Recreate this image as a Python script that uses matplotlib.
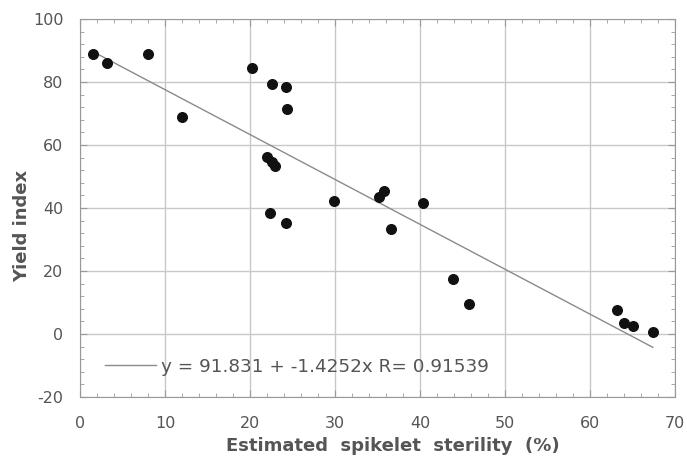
import matplotlib
matplotlib.use("Agg")
import matplotlib.pyplot as plt
import numpy as np
from matplotlib.ticker import MultipleLocator

# data
sterility = [1.5, 3.2, 8.0, 12.0, 20.2, 22.6, 24.2, 24.4,
             22.0, 22.6, 22.9, 22.4, 24.2, 29.9, 35.2, 35.8,
             36.6, 40.4, 43.9, 45.8, 63.2, 64.0, 65.1, 67.4]
yield_index = [89.0, 86.0, 89.0, 69.0, 84.4, 79.4, 78.4, 71.4,
               56.2, 54.6, 53.3, 38.4, 35.3, 42.3, 43.5, 45.4,
               33.3, 41.6, 17.5, 9.5, 7.6, 3.5, 2.5, 0.6]

intercept = 91.831
slope = -1.4252
fit_label = "y = 91.831 + -1.4252x R= 0.91539"

TXT = "#555555"
GRID = "#c8c8c8"

plt.rcParams["font.family"] = ["DejaVu Sans"]
plt.rcParams["axes.unicode_minus"] = False

fig = plt.figure(figsize=(6.87, 4.58), dpi=100)
ax = fig.add_axes([0.1164, 0.1332, 0.866, 0.8253])

xfit = np.array([min(sterility), max(sterility)])
ax.plot(xfit, intercept + slope * xfit, color="#8a8a8a", lw=1.0, label=fit_label, zorder=2)
ax.scatter(sterility, yield_index, s=48, color="#111111", zorder=3)

ax.set_xlim(0, 70)
ax.set_ylim(-20, 100)
ax.xaxis.set_major_locator(MultipleLocator(10))
ax.xaxis.set_minor_locator(MultipleLocator(2))
ax.yaxis.set_major_locator(MultipleLocator(20))
ax.yaxis.set_minor_locator(MultipleLocator(4))
ax.grid(which="major", color=GRID, lw=1.0)
ax.set_axisbelow(True)

ax.tick_params(which="both", direction="in", top=True, right=True, colors="#999999",
               labelcolor=TXT, labelsize=11.5)
ax.tick_params(which="major", length=5)
ax.tick_params(which="minor", length=3)
ax.tick_params(axis="x", pad=14)
ax.tick_params(axis="y", pad=12)
for s in ax.spines.values():
    s.set_color("#999999")

ax.set_xlabel("Estimated  spikelet  sterility  (%)", fontsize=13, fontweight="bold",
              color=TXT)
ax.xaxis.set_label_coords(0.526, -0.105)
ax.set_ylabel("Yield index", fontsize=13, fontweight="bold", color=TXT)
ax.yaxis.set_label_coords(-0.082, 0.452)

leg = ax.legend(loc="center left", bbox_to_anchor=(0.042, 0.08), frameon=False,
                fontsize=13.2, handlelength=2.8, handletextpad=0.27,
                borderpad=0, borderaxespad=0)
for t in leg.get_texts():
    t.set_color(TXT)

fig.savefig("out.png", dpi=100)
